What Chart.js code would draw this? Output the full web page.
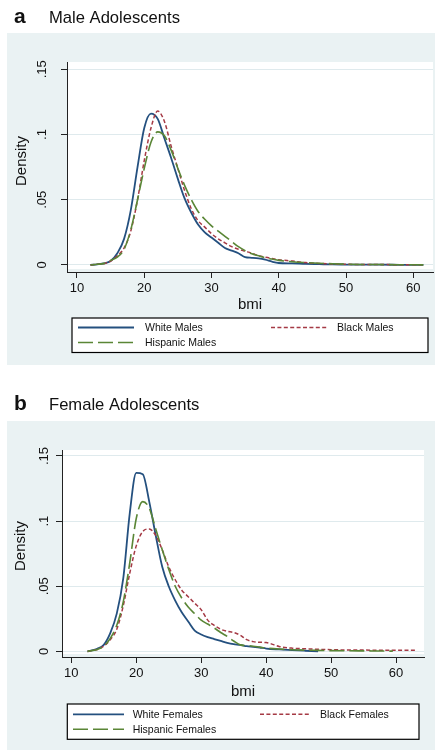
<!DOCTYPE html>
<html>
<head>
<meta charset="utf-8">
<script src="https://cdn.jsdelivr.net/npm/chart.js@4.4.1/dist/chart.umd.min.js"></script>
<style>
  html, body { margin: 0; padding: 0; background: #fff; }
  body { width: 435px; height: 750px; position: relative; overflow: hidden; }
  canvas { position: absolute; left: 0; }
  #male { top: 0; }
  #female { top: 370px; }
</style>
</head>
<body>
<canvas id="male" width="435" height="370"></canvas>
<canvas id="female" width="435" height="380"></canvas>
<script>
// data (kernel density of bmi)
const maleBmi = [12, 13, 14, 15, 16, 17, 18, 19, 20, 21, 22, 23, 24, 25, 26, 27, 28, 29, 30,
  31, 32, 33, 34, 35, 36, 37, 38, 39, 40, 42, 44, 46, 48, 50, 52, 55, 58, 61.5];
const whiteMales = [0, .0005, .0012, .003, .009, .020, .042, .075, .105, .116, .112, .097, .082, .066, .051, .040, .031, .025, .021,
  .017, .013, .011, .009, .006, .0055, .005, .004, .0025, .0015, .0012, .0008, .0006, .0004, .0003, .0002, .0002, .0001, 0];
const blackMales = [0, .0005, .001, .003, .007, .013, .026, .050, .080, .105, .118, .110, .091, .074, .057, .043, .034, .029, .024,
  .020, .017, .014, .012, .0105, .009, .007, .006, .005, .004, .003, .0018, .0012, .0008, .0005, .0004, .0003, .0002, .0001];
const hispanicMales = [0, .0005, .0012, .0035, .006, .012, .027, .050, .074, .094, .102, .099, .088, .074, .061, .050, .041, .035, .030,
  .026, .022, .018, .014, .011, .0085, .007, .0055, .0045, .0035, .0025, .0018, .0013, .0009, .0006, .0004, .0003, .0002, .0001];

const femaleBmi = [12.5, 13, 14, 15, 16, 17, 18, 19, 20, 21, 22, 23, 24, 25, 26, 27, 28, 29, 30,
  31, 32, 33, 34, 35, 36, 37, 38, 39, 40, 42, 44, 46, 48, 50, 52, 55, 58, 59.5, 61, 63];
const whiteFemales = [0, .0005, .002, .005, .014, .029, .056, .106, .137, .136, .115, .089, .065, .050, .039, .030, .023, .016, .013,
  .011, .0095, .008, .0065, .0055, .005, .004, .0035, .003, .0022, .0015, .001, .0005, 0, null, null, null, null, null, null, null];
const blackFemales = [0, .0005, .0015, .004, .009, .017, .035, .060, .081, .092, .094, .089, .078, .065, .055, .047, .042, .037, .032,
  .024, .020, .017, .0155, .0145, .0125, .009, .0075, .007, .0068, .0038, .0025, .002, .0016, .0013, .0011, .001, .0009, .0009, .0008, .0008];
const hispanicFemales = [0, .0005, .0015, .004, .010, .020, .038, .068, .102, .115, .110, .094, .078, .063, .050, .041, .034, .029, .024,
  .021, .018, .0145, .0115, .008, .005, .0045, .004, .0033, .0026, .0018, .0013, .001, .0008, .0006, .0005, .0004, .0003, .0002, null, null];

const maleLabels = ['White Males', 'Black Males', 'Hispanic Males'];
const femaleLabels = ['White Females', 'Black Females', 'Hispanic Females'];
const yTicks = [0, 0.05, 0.1, 0.15];
const yTickLabels = ['0', '.05', '.1', '.15'];
const xTicks = [10, 20, 30, 40, 50, 60];

const FONT = '"Liberation Sans", Arial, Helvetica, sans-serif';
const INK = '#111';
const BG = '#eaf2f3';

// navy solid, maroon short dash, green long dash
const seriesStyle = [
  { color: '#24507f', dash: [], width: 1.8, order: 3 },
  { color: '#a53a45', dash: [4, 2.4], width: 1.5, order: 2 },
  { color: '#5a8636', dash: [15, 5], width: 1.6, order: 1 }
];

function pts(xs, ys) {
  return xs.map((x, i) => ({ x: x, y: ys[i] }));
}

function rotText(ctx, txt, x, y) {
  ctx.save();
  ctx.translate(x, y);
  ctx.rotate(-Math.PI / 2);
  ctx.textAlign = 'center';
  ctx.textBaseline = 'middle';
  ctx.fillText(txt, 0, 0);
  ctx.restore();
}

const panelPlugin = {
  id: 'panel',
  beforeDraw(chart, args, o) {
    const ctx = chart.ctx, a = chart.chartArea;
    ctx.save();
    ctx.fillStyle = BG;
    ctx.fillRect(o.bg[0], o.bg[1], o.bg[2] - o.bg[0], o.bg[3] - o.bg[1]);
    ctx.fillStyle = '#fff';
    ctx.fillRect(a.left + 1, a.top, a.right - a.left - 1, a.bottom - a.top - 3);
    ctx.restore();
  },
  afterDraw(chart, args, o) {
    const ctx = chart.ctx;
    const ys = chart.scales.y;
    ctx.save();
    ctx.fillStyle = INK;
    // panel letter + title
    ctx.textAlign = 'left';
    ctx.textBaseline = 'alphabetic';
    ctx.font = 'bold 21px ' + FONT;
    ctx.fillText(o.letter, 14, o.titleY);
    ctx.font = '16.6px ' + FONT;
    ctx.fillText(o.title, 49, o.titleY);
    // y tick labels, rotated like Stata
    ctx.font = '13px ' + FONT;
    yTicks.forEach((v, i) => rotText(ctx, yTickLabels[i], o.yLabelX, ys.getPixelForValue(v)));
    // axis titles
    ctx.font = '15px ' + FONT;
    rotText(ctx, 'Density', o.density[0], o.density[1]);
    ctx.textAlign = 'center';
    ctx.textBaseline = 'middle';
    ctx.fillText('bmi', o.bmi[0], o.bmi[1]);
    // legend
    const L = o.legend;
    ctx.fillStyle = '#fff';
    ctx.fillRect(L.box[0], L.box[1], L.box[2] - L.box[0], L.box[3] - L.box[1]);
    ctx.strokeStyle = '#000';
    ctx.lineWidth = 1.2;
    ctx.strokeRect(L.box[0], L.box[1], L.box[2] - L.box[0], L.box[3] - L.box[1]);
    const slots = [[L.col1, L.row1], [L.col2, L.row1], [L.col1, L.row2]];
    ctx.font = '10.5px ' + FONT;
    ctx.textAlign = 'left';
    chart.data.datasets.forEach((ds, i) => {
      const c = slots[i][0], y = slots[i][1];
      ctx.strokeStyle = ds.borderColor;
      ctx.lineWidth = ds.borderWidth;
      ctx.setLineDash(ds.borderDash);
      ctx.beginPath();
      ctx.moveTo(c[0], y);
      ctx.lineTo(c[1], y);
      ctx.stroke();
      ctx.setLineDash([]);
      ctx.fillStyle = INK;
      ctx.fillText(ds.label, c[2], y + 0.5);
    });
    ctx.restore();
  }
};

function makePanel(id, bmi, series, labels, g) {
  const canvas = document.getElementById(id);
  const datasets = series.map((ys, i) => ({
    label: labels[i],
    data: pts(bmi, ys),
    borderColor: seriesStyle[i].color,
    borderDash: seriesStyle[i].dash,
    borderWidth: seriesStyle[i].width,
    order: seriesStyle[i].order,
    pointRadius: 0,
    cubicInterpolationMode: 'monotone',
    fill: false,
    spanGaps: false
  }));
  return new Chart(canvas.getContext('2d'), {
    type: 'line',
    data: { datasets: datasets },
    options: {
      responsive: false,
      animation: false,
      events: [],
      layout: { padding: { top: g.top, right: canvas.width - g.right, left: 0, bottom: 0 } },
      plugins: {
        legend: { display: false },
        tooltip: { enabled: false },
        panel: g.text
      },
      scales: {
        x: {
          type: 'linear',
          min: g.xMin,
          max: g.xMax,
          afterBuildTicks: s => { s.ticks = xTicks.map(v => ({ value: v })); },
          afterFit: s => { s.height = canvas.height - g.bottom; },
          ticks: {
            padding: 3,
            maxRotation: 0,
            color: INK,
            font: { family: FONT, size: 13 },
            callback: v => String(v)
          },
          grid: { drawOnChartArea: false, tickLength: 6, tickColor: '#222', lineWidth: 1 },
          border: { color: '#222', width: 1 }
        },
        y: {
          type: 'linear',
          min: g.yMin,
          max: g.yMax,
          afterBuildTicks: s => { s.ticks = yTicks.map(v => ({ value: v })); },
          afterFit: s => { s.width = g.left; },
          ticks: { display: false },
          grid: { color: '#dfeaed', lineWidth: 1, tickLength: 6, tickColor: '#222' },
          border: { color: '#222', width: 1 }
        }
      }
    },
    plugins: [panelPlugin]
  });
}

makePanel('male', maleBmi, [whiteMales, blackMales, hispanicMales], maleLabels, {
  left: 67, top: 62, right: 433, bottom: 272,
  xMin: 8.515, xMax: 62.93, yMin: -0.0054, yMax: 0.1556,
  text: {
    bg: [7, 33, 435, 365],
    letter: 'a', title: 'Male Adolescents', titleY: 23,
    yLabelX: 42.5, density: [22, 161], bmi: [250, 305],
    legend: {
      box: [72, 318, 428, 352.5],
      row1: 327.5, row2: 342.5,
      col1: [78, 134, 145], col2: [271, 328, 337]
    }
  }
});

makePanel('female', femaleBmi, [whiteFemales, blackFemales, hispanicFemales], femaleLabels, {
  left: 62, top: 80, right: 424, bottom: 287,
  xMin: 8.57, xMax: 64.3, yMin: -0.0043, yMax: 0.1546,
  text: {
    bg: [7, 51, 435, 380],
    letter: 'b', title: 'Female Adolescents', titleY: 40,
    yLabelX: 44, density: [21, 176], bmi: [243, 322],
    legend: {
      box: [67.3, 334, 419, 369.3],
      row1: 344.3, row2: 359.3,
      col1: [73, 124, 132.7], col2: [260, 311, 320]
    }
  }
});
</script>
</body>
</html>
